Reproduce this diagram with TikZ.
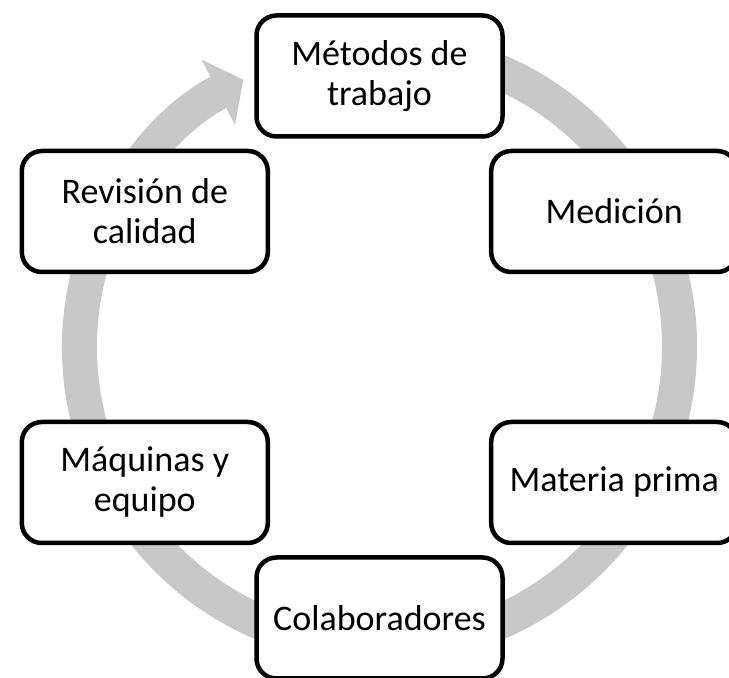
\documentclass[tikz,border=0pt]{standalone}
\usepackage{fontspec}
\setmainfont{Carlito}
\usetikzlibrary{arrows.meta, calc}

\definecolor{ringgray}{RGB}{200,200,200}

\begin{document}
\begin{tikzpicture}[
  x=1pt, y=1pt,
  box/.style  = {draw, rectangle, rounded corners=20pt, line width=4.5pt, fill=white,
                 minimum width=246pt, minimum height=121pt, align=center,
                 font=\fontsize{36}{40}\selectfont},
  ring/.style = {draw=ringgray, line width=35pt, -{Triangle[length=28pt, width=72pt]}},
]
  \useasboundingbox (0,0) rectangle (729,678);
  \coordinate (C) at (379.5,331);

  % cycle arrow behind the boxes
  \draw[ring] ($(C)+(80:300)$) arc[start angle=80, end angle=-243, radius=300];

  \node[box] (metodos)  at ($(C)+(90:271)$)   {Métodos de\\trabajo};
  \node[box] (medicion) at ($(C)+(30:271)$)   {Medición};
  \node[box] (materia)  at ($(C)+(-30:271)$)  {Materia prima};
  \node[box] (colab)    at ($(C)+(-90:271)$)  {Colaboradores};
  \node[box] (maquinas) at ($(C)+(-150:271)$) {Máquinas y\\equipo};
  \node[box] (revision) at ($(C)+(150:271)$)  {Revisión de\\calidad};
\end{tikzpicture}
\end{document}
